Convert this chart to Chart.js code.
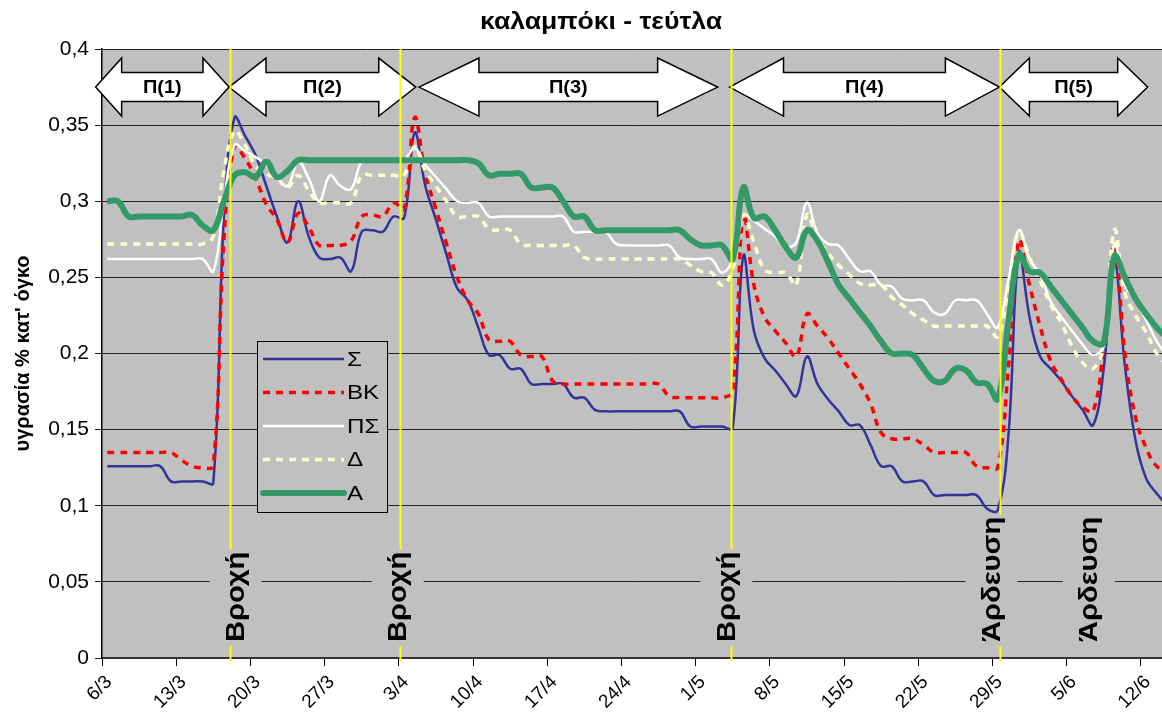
<!DOCTYPE html>
<html><head><meta charset="utf-8">
<script src="https://cdn.jsdelivr.net/npm/chart.js@4"></script>
<style>html,body{margin:0;padding:0;background:#fff;}canvas{display:block;}</style>
</head><body>
<canvas id="c" width="1162" height="720" style="width:1162px;height:720px"></canvas>
<script>
const chartTitle = 'καλαμπόκι - τεύτλα';
const yAxisTitle = 'υγρασία % κατ\' όγκο';
const tickLabels = ['6/3','13/3','20/3','27/3','3/4','10/4','17/4','24/4','1/5','8/5','15/5','22/5','29/5','5/6','12/6'];
const seriesNames = ['Σ','ΒΚ','ΠΣ','Δ','Α'];

// daily readings, one per day starting 6/3
const S = [
0.126,0.126,0.126,0.126,0.126,0.126,0.116,0.116,0.116,0.116,
0.115,0.290,0.355,0.343,0.330,0.310,0.290,0.273,0.300,0.277,
0.263,0.262,0.263,0.254,0.280,0.281,0.280,0.290,0.289,0.345,
0.310,0.288,0.265,0.243,0.235,0.217,0.199,0.199,0.190,0.190,
0.180,0.180,0.180,0.180,0.171,0.171,0.163,0.162,0.162,0.162,
0.162,0.162,0.162,0.162,0.162,0.152,0.152,0.152,0.152,0.151,
0.264,0.215,0.197,0.189,0.180,0.172,0.198,0.180,0.170,0.162,
0.153,0.153,0.140,0.126,0.126,0.116,0.116,0.116,0.107,0.107,
0.107,0.107,0.107,0.098,0.097,0.145,0.266,0.224,0.198,0.190,
0.182,0.172,0.163,0.153,0.190,0.261,0.192,0.143,0.118,0.108,
0.100];
const BK = [
0.135,0.135,0.135,0.135,0.135,0.135,0.135,0.130,0.126,0.125,
0.126,0.275,0.336,0.328,0.315,0.298,0.288,0.273,0.292,0.283,
0.271,0.271,0.271,0.274,0.290,0.291,0.290,0.299,0.295,0.355,
0.318,0.295,0.272,0.250,0.235,0.226,0.209,0.208,0.208,0.199,
0.198,0.198,0.182,0.180,0.180,0.180,0.180,0.180,0.180,0.180,
0.180,0.180,0.180,0.172,0.171,0.171,0.171,0.171,0.171,0.175,
0.291,0.245,0.224,0.215,0.207,0.198,0.226,0.218,0.210,0.200,
0.190,0.180,0.167,0.148,0.144,0.144,0.144,0.140,0.135,0.135,
0.135,0.135,0.126,0.125,0.125,0.190,0.274,0.245,0.218,0.195,
0.183,0.172,0.165,0.162,0.205,0.271,0.200,0.158,0.138,0.126,
0.124];
const PS = [
0.262,0.262,0.262,0.262,0.262,0.262,0.262,0.262,0.262,0.262,
0.254,0.300,0.337,0.333,0.329,0.324,0.316,0.310,0.326,0.315,
0.300,0.317,0.310,0.308,0.326,0.327,0.327,0.327,0.327,0.335,
0.324,0.316,0.308,0.300,0.299,0.299,0.290,0.290,0.290,0.290,
0.290,0.290,0.290,0.290,0.280,0.280,0.280,0.280,0.272,0.271,
0.271,0.271,0.271,0.271,0.263,0.262,0.262,0.262,0.253,0.262,
0.291,0.287,0.282,0.277,0.270,0.273,0.299,0.279,0.272,0.271,
0.262,0.254,0.254,0.245,0.244,0.236,0.235,0.235,0.227,0.226,
0.235,0.235,0.235,0.226,0.217,0.248,0.281,0.262,0.252,0.234,
0.224,0.215,0.206,0.199,0.205,0.272,0.245,0.235,0.222,0.208,
0.198];
const D = [
0.272,0.272,0.272,0.272,0.272,0.272,0.272,0.272,0.272,0.272,
0.277,0.320,0.346,0.337,0.323,0.318,0.315,0.309,0.317,0.307,
0.299,0.299,0.299,0.299,0.317,0.317,0.317,0.317,0.317,0.336,
0.320,0.310,0.300,0.290,0.290,0.290,0.282,0.281,0.281,0.272,
0.271,0.271,0.271,0.271,0.271,0.263,0.262,0.262,0.262,0.262,
0.262,0.262,0.262,0.262,0.262,0.258,0.254,0.253,0.245,0.255,
0.291,0.273,0.255,0.253,0.253,0.245,0.291,0.276,0.266,0.258,
0.252,0.246,0.245,0.245,0.237,0.232,0.226,0.222,0.218,0.218,
0.218,0.218,0.218,0.218,0.211,0.243,0.280,0.263,0.248,0.232,
0.220,0.205,0.194,0.190,0.205,0.281,0.240,0.225,0.214,0.200,
0.192];
const A = [
0.300,0.300,0.290,0.290,0.290,0.290,0.290,0.290,0.291,0.284,
0.281,0.300,0.317,0.319,0.316,0.326,0.316,0.320,0.327,0.327,
0.327,0.327,0.327,0.327,0.327,0.327,0.327,0.327,0.327,0.327,
0.327,0.327,0.327,0.327,0.327,0.325,0.317,0.318,0.318,0.318,
0.309,0.309,0.309,0.300,0.290,0.290,0.281,0.281,0.281,0.281,
0.281,0.281,0.281,0.281,0.281,0.275,0.271,0.271,0.271,0.262,
0.309,0.289,0.290,0.281,0.270,0.263,0.281,0.274,0.260,0.245,
0.236,0.227,0.218,0.208,0.200,0.200,0.199,0.190,0.182,0.182,
0.190,0.189,0.181,0.180,0.170,0.220,0.265,0.254,0.253,0.244,
0.235,0.226,0.217,0.208,0.207,0.264,0.250,0.236,0.226,0.217,
0.210];

const periodLabels = ['Π(1)','Π(2)','Π(3)','Π(4)','Π(5)'];
const periodStart = [-0.6, 11.98, 29.9, 59.2, 84.66];
const periodEnd   = [11.98, 29.6, 58.08, 84.66, 98.65];
const eventDays = [12.1, 28.1, 59.3, 84.7];
const noteLabels = ['Βροχή','Βροχή','Βροχή','Άρδευση','Άρδευση'];
const noteDays = [12.6, 27.9, 58.9, 83.9, 93.1];

// styles
const FONT = '"Liberation Sans", Arial, sans-serif';
const seriesStyles = [
  {color:'#333399', width:2.5, dash:[]},
  {color:'#FF0000', width:3.5, dash:[7,6]},
  {color:'#FFFFFF', width:2.5, dash:[]},
  {color:'#FFFFCC', width:3.5, dash:[7,6]},
  {color:'#339966', width:6,   dash:[]}
];
const arrowHeadPx = [26, 37, 60, 54, 30];

const allSeries = [S, BK, PS, D, A];
const datasets = allSeries.map((vals, k) => ({
  label: seriesNames[k],
  data: vals.map((v, i) => ({x: i + 0.5, y: v})),
  borderColor: seriesStyles[k].color,
  borderWidth: seriesStyles[k].width,
  borderDash: seriesStyles[k].dash,
  pointRadius: 0,
  tension: 0.4,
  fill: false,
  order: 4 - k
}));

function stretchedText(ctx, txt, x, y, sx, rot) {
  ctx.save();
  ctx.translate(x, y);
  if (rot) ctx.rotate(rot);
  ctx.scale(sx, 1);
  ctx.fillText(txt, 0, 0);
  ctx.restore();
}

const bgPlugin = {
  id: 'plotBg',
  beforeDraw(chart) {
    const {ctx, chartArea: a} = chart;
    ctx.save();
    ctx.fillStyle = '#C0C0C0';
    ctx.fillRect(a.left, a.top, a.right - a.left, a.bottom - a.top);
    ctx.restore();
  }
};

const overlayPlugin = {
  id: 'overlay',
  afterDatasetsDraw(chart) {
    const {ctx, chartArea: a, scales: {x, y}} = chart;
    ctx.save();
    // period arrows
    const cy = y.getPixelForValue(0.375);
    const hh = 29, sh = 14.5;
    periodLabels.forEach((lab, i) => {
      const x1 = x.getPixelForValue(periodStart[i]);
      const x2 = x.getPixelForValue(periodEnd[i]);
      const h = arrowHeadPx[i];
      ctx.beginPath();
      ctx.moveTo(x1, cy);
      ctx.lineTo(x1 + h, cy - hh);
      ctx.lineTo(x1 + h, cy - sh);
      ctx.lineTo(x2 - h, cy - sh);
      ctx.lineTo(x2 - h, cy - hh);
      ctx.lineTo(x2, cy);
      ctx.lineTo(x2 - h, cy + hh);
      ctx.lineTo(x2 - h, cy + sh);
      ctx.lineTo(x1 + h, cy + sh);
      ctx.lineTo(x1 + h, cy + hh);
      ctx.closePath();
      ctx.fillStyle = '#FFFFFF';
      ctx.fill();
      ctx.lineWidth = 1.5;
      ctx.strokeStyle = '#000';
      ctx.lineJoin = 'miter';
      ctx.stroke();
      ctx.fillStyle = '#000';
      ctx.font = 'bold 19px ' + FONT;
      ctx.textAlign = 'center';
      ctx.textBaseline = 'middle';
      stretchedText(ctx, lab, (x1 + x2) / 2, cy + 1, 1.05, 0);
    });
    // event lines
    ctx.strokeStyle = '#FFFF00';
    ctx.lineWidth = 2;
    eventDays.forEach(d => {
      const px = Math.round(x.getPixelForValue(d)) + 0.5;
      ctx.beginPath();
      ctx.moveTo(px, a.top);
      ctx.lineTo(px, a.bottom + 3);
      ctx.stroke();
    });
    // note boxes
    ctx.font = 'bold 26px ' + FONT;
    const noteStretch = 1.12;
    noteLabels.forEach((lab, i) => {
      const cx = x.getPixelForValue(noteDays[i]);
      const w = ctx.measureText(lab).width * noteStretch;
      const boxH = w + 6;
      const bottom = a.bottom - 12;
      ctx.fillStyle = '#C0C0C0';
      ctx.fillRect(cx - 26, bottom - boxH, 52, boxH);
      ctx.fillStyle = '#000';
      ctx.textAlign = 'center';
      ctx.textBaseline = 'middle';
      stretchedText(ctx, lab, cx + 1, bottom - boxH / 2 - 1, noteStretch, -Math.PI / 2);
    });
    // legend
    const lx = 257, ly = 341, lw = 130, lh = 171;
    ctx.fillStyle = '#C0C0C0';
    ctx.fillRect(lx, ly, lw, lh);
    ctx.strokeStyle = '#000';
    ctx.lineWidth = 1;
    ctx.strokeRect(lx + 0.5, ly + 0.5, lw, lh);
    ctx.font = '21px ' + FONT;
    ctx.textAlign = 'left';
    ctx.textBaseline = 'middle';
    seriesNames.forEach((n, k) => {
      const yy = ly + 18 + k * 33.5;
      const st = seriesStyles[k];
      ctx.beginPath();
      ctx.setLineDash(st.dash);
      ctx.strokeStyle = st.color;
      ctx.lineWidth = st.width;
      ctx.lineCap = k === 4 ? 'round' : 'butt';
      ctx.moveTo(lx + 6, yy);
      ctx.lineTo(lx + 87, yy);
      ctx.stroke();
      ctx.setLineDash([]);
      ctx.fillStyle = '#000';
      stretchedText(ctx, n, lx + 90, yy + 1, 1.15, 0);
    });
    // title
    ctx.font = 'bold 23px ' + FONT;
    ctx.textAlign = 'center';
    ctx.textBaseline = 'middle';
    ctx.fillStyle = '#000';
    const tw = ctx.measureText(chartTitle).width;
    stretchedText(ctx, chartTitle, 601, 23, 242 / tw, 0);
    ctx.restore();
  }
};

Chart.defaults.font.family = FONT;
Chart.defaults.color = '#000';

new Chart(document.getElementById('c'), {
  type: 'line',
  data: {datasets},
  options: {
    responsive: false,
    animation: false,
    events: [],
    layout: {padding: {top: 49, left: 0, right: 0, bottom: 0}},
    plugins: {legend: {display: false}, tooltip: {enabled: false}, title: {display: false}},
    scales: {
      x: {
        type: 'linear',
        min: 0, max: 100,
        afterBuildTicks: s => { s.ticks = tickLabels.map((_, i) => ({value: i * 7})); },
        afterFit: s => { s.height = 62; },
        ticks: {
          stepSize: 7,
          includeBounds: false,
          autoSkip: false,
          maxRotation: 45, minRotation: 45,
          labelOffset: 7,
          padding: 5,
          font: {size: 19},
          callback: v => tickLabels[Math.round(v / 7)]
        },
        grid: {drawOnChartArea: false, drawTicks: true, tickLength: 8, color: '#000', lineWidth: 1},
        border: {display: true, color: '#333', width: 2}
      },
      y: {
        min: 0, max: 0.4,
        afterFit: s => { s.width = 102; },
        ticks: {
          stepSize: 0.05,
          padding: 6,
          font: {size: 21},
          callback: v => (Math.round(v * 100) / 100).toString().replace('.', ',')
        },
        grid: {color: '#222', lineWidth: 1, drawTicks: true, tickLength: 7},
        border: {display: true, color: '#000', width: 1.5},
        title: {display: true, text: yAxisTitle, font: {size: 20, weight: 'bold'}, padding: {top: 11, bottom: 0}}
      }
    }
  },
  plugins: [bgPlugin, overlayPlugin]
});
</script>
</body></html>
